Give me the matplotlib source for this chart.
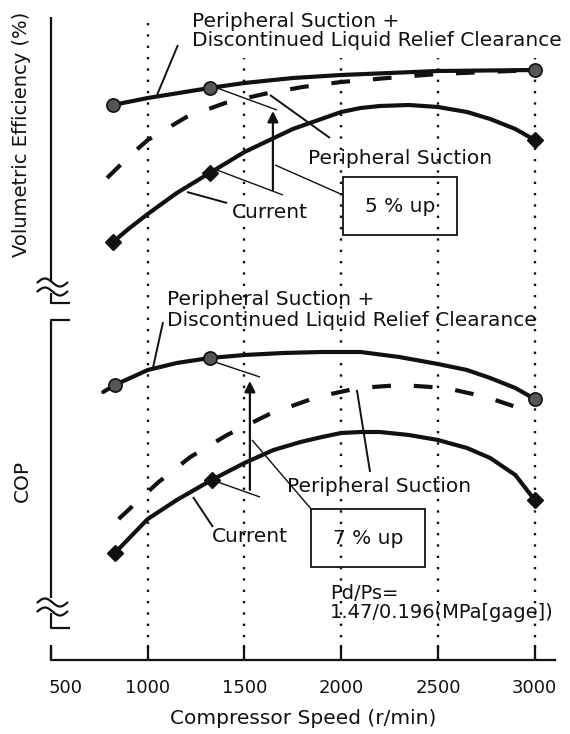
#!/usr/bin/env python3
import matplotlib as mpl

mpl.use("Agg")
import matplotlib.pyplot as plt
import matplotlib.transforms as mtransforms
import numpy as np

# compressor speed (r/min) and relative curve height (no y scale in the source)
SPEED_VE_PLUS = [820, 1000, 1320, 1500, 1750, 2000, 2500, 3000]
VE_PLUS = [555, 562, 572, 577, 582, 585, 589, 590]
SPEED_VE_PS = [790, 900, 1000, 1200, 1400, 1600, 1800, 2000, 2300, 2500, 2750, 3000]
VE_PS = [482, 503, 520, 543, 557, 566, 573, 578, 583, 586, 588, 590]
SPEED_VE_CUR = [820, 900, 1000, 1150, 1320, 1500, 1750, 2000, 2100, 2200, 2350, 2500, 2650, 2770, 2900, 3000]
VE_CUR = [418, 431, 446, 467, 487, 508, 531, 548, 552, 554, 555, 553, 548, 541, 531, 520]

SPEED_COP_PLUS = [770, 830, 1000, 1150, 1320, 1500, 1700, 1900, 2100, 2300, 2500, 2650, 2770, 2900, 3000]
COP_PLUS = [268, 275, 290, 297, 302, 305, 307, 308, 308, 303, 296, 290, 282, 272, 261]
SPEED_COP_PS = [850, 1050, 1220, 1410, 1630, 1875, 2090, 2310, 2540, 2750, 2950, 3000]
COP_PS = [141, 177, 203, 225, 246, 263, 272, 275, 272, 263, 250, 246]
SPEED_COP_CUR = [830, 900, 1000, 1150, 1330, 1500, 1650, 1790, 1900, 2000, 2100, 2200, 2350, 2500, 2650, 2770, 2900, 3000]
COP_CUR = [107, 121, 141, 160, 180, 197, 210, 218, 223, 227, 228, 228, 225, 220, 212, 202, 185, 160]

MEASURED_VE = [820, 1320, 3000]
MEASURED_COP = [830, 1320, 1330, 3000]

XTICKS = [500, 1000, 1500, 2000, 2500, 3000]
GRID_SPEEDS = [1000, 1500, 2000, 2500, 3000]

INK = "#111111"
MARK_FILL = "#555555"
FONT = "DejaVu Sans"


def marks(xs, measured):
    return [i for i, x in enumerate(xs) if x in measured]


def squiggle(ax, y):
    xs = np.linspace(430, 585, 40)
    for dy in (4.5, -4.5):
        ys = y + dy + 4.0 * np.sin((xs - 430) / 155 * 2 * np.pi)
        ax.plot(xs, ys, color=INK, lw=1.6, clip_on=False, solid_capstyle="round")


def seg(ax, xs, ys, lw=1.6):
    ax.plot(xs, ys, color=INK, lw=lw, clip_on=False, solid_capstyle="butt")


def main():
    mpl.rcParams.update({"font.family": FONT, "figure.facecolor": "white"})
    fig = plt.figure(figsize=(5.7, 7.34), dpi=100)
    ax = fig.add_axes([51 / 570, 1 - 660 / 734, 504 / 570, 660 / 734])
    ax.set_xlim(500, 3105)
    ax.set_ylim(0, 660)

    for sp in ("top", "right", "left"):
        ax.spines[sp].set_visible(False)
    ax.spines["bottom"].set_linewidth(1.6)
    ax.spines["bottom"].set_color(INK)

    # dotted speed grid
    for s in GRID_SPEEDS:
        top = 645 if s == 1000 else 602
        ax.plot([s, s], [0, top], color=INK, lw=1.7, ls=(0, (1, 3.8)), zorder=1)

    # broken left axis
    seg(ax, [500, 500], [643, 379])
    squiggle(ax, 373)
    seg(ax, [500, 500, 598], [367, 357, 357])
    seg(ax, [598, 500, 500], [340, 340, 62])
    squiggle(ax, 53)
    seg(ax, [500, 500, 598], [47, 32, 32])
    seg(ax, [500, 500], [15, 0])

    line_kw = dict(color=INK, lw=3.0, zorder=3, solid_capstyle="round", solid_joinstyle="round")
    dash_kw = dict(color=INK, lw=3.0, ls=(0, (4.5, 5.5)), zorder=3)
    circ = dict(marker="o", ms=9.5, mfc=MARK_FILL, mec=INK, mew=1.2)
    diam = dict(marker="D", ms=8.5, mfc=INK, mec=INK)

    ax.plot(SPEED_VE_PLUS, VE_PLUS, markevery=marks(SPEED_VE_PLUS, MEASURED_VE), **line_kw, **circ)
    ax.plot(SPEED_VE_PS, VE_PS, **dash_kw)
    ax.plot(SPEED_VE_CUR, VE_CUR, markevery=marks(SPEED_VE_CUR, MEASURED_VE), **line_kw, **diam)

    ax.plot(SPEED_COP_PLUS, COP_PLUS, markevery=marks(SPEED_COP_PLUS, MEASURED_COP), **line_kw, **circ)
    ax.plot(SPEED_COP_PS, COP_PS, **dash_kw)
    ax.plot(SPEED_COP_CUR, COP_CUR, markevery=marks(SPEED_COP_CUR, MEASURED_COP), **line_kw, **diam)

    txt = dict(color=INK, fontsize=14.5, zorder=5)
    thin = 1.0
    lead = 1.4

    # --- volumetric efficiency annotations
    ax.text(1229, 648, "Peripheral Suction +\nDiscontinued Liquid Relief Clearance",
            ha="left", va="top", linespacing=1.0, **txt)
    seg(ax, [1156, 1048], [615, 565], lead)
    seg(ax, [1358, 1668], [572, 550], thin)
    seg(ax, [1358, 1699], [490, 465], thin)
    ax.annotate("", xy=(1647, 549), xytext=(1647, 470),
                arrowprops=dict(arrowstyle="-|>", color=INK, lw=1.6, mutation_scale=16, shrinkA=0, shrinkB=0))
    ax.text(1828, 502, "Peripheral Suction", ha="left", va="center", **txt)
    seg(ax, [1632, 1942], [565, 522], lead)
    ax.text(1435, 447, "Current", ha="left", va="center", **txt)
    seg(ax, [1203, 1410], [468, 457], lead)
    ax.add_patch(plt.Rectangle((2009, 425), 589, 58, fill=False, ec=INK, lw=1.3, zorder=4))
    ax.text(2304, 453, "5 % up", ha="center", va="center", **txt)
    seg(ax, [2009, 1658], [465, 495], thin)

    # --- COP annotations
    ax.text(1099, 370, "Peripheral Suction +\nDiscontinued Liquid Relief Clearance",
            ha="left", va="top", linespacing=1.1, **txt)
    seg(ax, [1079, 1027], [338, 292], lead)
    seg(ax, [1347, 1580], [298, 283], thin)
    seg(ax, [1347, 1580], [179, 163], thin)
    ax.annotate("", xy=(1528, 279), xytext=(1528, 170),
                arrowprops=dict(arrowstyle="-|>", color=INK, lw=1.6, mutation_scale=16, shrinkA=0, shrinkB=0))
    ax.text(1720, 173, "Peripheral Suction", ha="left", va="center", **txt)
    seg(ax, [2081, 2149], [270, 188], lead)
    ax.text(1332, 123, "Current", ha="left", va="center", **txt)
    seg(ax, [1234, 1337], [163, 133], lead)
    ax.add_patch(plt.Rectangle((1844, 93), 589, 58, fill=False, ec=INK, lw=1.3, zorder=4))
    ax.text(2138, 121, "7 % up", ha="center", va="center", **txt)
    seg(ax, [1849, 1539], [150, 220], thin)
    ax.text(1942, 76, "Pd/Ps=\n1.47/0.196(MPa[gage])", ha="left", va="top", linespacing=1.0,
            color=INK, fontsize=14, zorder=5)

    # axis ticks and labels
    ax.set_xticks(XTICKS)
    ax.set_yticks([])
    ax.tick_params(axis="x", direction="in", length=11, width=1.6, color=INK, pad=14, labelsize=13, labelcolor=INK)
    first = ax.get_xticklabels()[0]
    first.set_transform(first.get_transform() + mtransforms.ScaledTranslation(0.15, 0, fig.dpi_scale_trans))
    ax.set_xlabel("Compressor Speed (r/min)", fontsize=14.5, color=INK, labelpad=8)

    fig.text(22 / 570, 1 - 134 / 734, "Volumetric Efficiency (%)", rotation=90,
             ha="center", va="center", fontsize=14, color=INK)
    fig.text(22 / 570, 1 - 481 / 734, "COP", rotation=90, ha="center", va="center", fontsize=14.5, color=INK)

    fig.savefig("out.png", dpi=100, facecolor="white")
    plt.close(fig)


if __name__ == "__main__":
    main()
